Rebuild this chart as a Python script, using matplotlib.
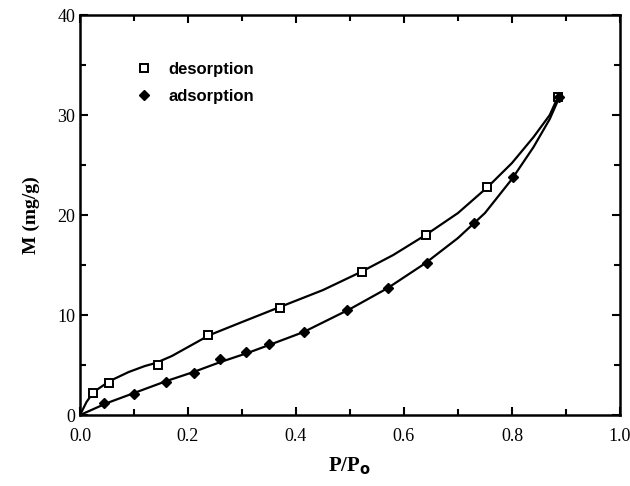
import matplotlib
matplotlib.use("Agg")
import matplotlib.pyplot as plt
from matplotlib.ticker import MultipleLocator, FormatStrFormatter

des_x = [0.024, 0.054, 0.144, 0.237, 0.370, 0.522, 0.640, 0.753, 0.885]
des_y = [2.2, 3.2, 5.0, 8.0, 10.7, 14.3, 18.0, 22.8, 31.8]
ads_x = [0.044, 0.100, 0.159, 0.212, 0.259, 0.307, 0.350, 0.414, 0.495, 0.571, 0.642, 0.730, 0.802, 0.888]
ads_y = [1.2, 2.1, 3.3, 4.2, 5.6, 6.3, 7.1, 8.3, 10.5, 12.7, 15.2, 19.2, 23.8, 31.8]

# fitted curves
des_fit_x = [0.0, 0.012, 0.025, 0.055, 0.09, 0.12, 0.14, 0.17, 0.2, 0.24, 0.3, 0.37, 0.45, 0.52,
             0.58, 0.64, 0.7, 0.755, 0.8, 0.84, 0.87, 0.885]
des_fit_y = [0.0, 1.3, 2.3, 3.4, 4.3, 4.9, 5.2, 5.9, 6.8, 8.0, 9.3, 10.8, 12.5, 14.3,
             16.0, 18.0, 20.2, 22.8, 25.2, 27.8, 30.0, 31.8]
ads_fit_x = [0.0, 0.05, 0.1, 0.16, 0.21, 0.26, 0.31, 0.35, 0.414, 0.5, 0.57, 0.64, 0.7, 0.75,
             0.8, 0.84, 0.87, 0.888]
ads_fit_y = [0.0, 1.2, 2.2, 3.4, 4.3, 5.3, 6.2, 7.0, 8.3, 10.6, 12.7, 15.2, 17.7, 20.2,
             23.6, 26.8, 29.6, 31.8]

fig = plt.figure(figsize=(6.3, 4.86), dpi=100)
ax = fig.add_axes([0.127, 0.146, 0.857, 0.823])

ax.plot(des_fit_x, des_fit_y, color='black', lw=1.6)
ax.plot(ads_fit_x, ads_fit_y, color='black', lw=1.6)
ax.plot(des_x, des_y, 's', ms=6, mfc='white', mec='black', mew=1.4, label='desorption')
ax.plot(ads_x, ads_y, 'D', ms=5.5, color='black', label='adsorption')

ax.set_xlim(0, 1.0)
ax.set_ylim(0, 40)
ax.xaxis.set_major_locator(MultipleLocator(0.2))
ax.xaxis.set_minor_locator(MultipleLocator(0.1))
ax.xaxis.set_major_formatter(FormatStrFormatter('%.1f'))
ax.yaxis.set_major_locator(MultipleLocator(10))
ax.yaxis.set_minor_locator(MultipleLocator(5))
ax.tick_params(which='both', direction='in', top=True, right=True, width=1.5,
               labelsize=13, labelfontfamily='Liberation Serif')
ax.tick_params(which='major', length=6)
ax.tick_params(which='minor', length=4)
ax.tick_params(axis='x', which='major', pad=9)
for s in ax.spines.values():
    s.set_linewidth(1.8)

ax.set_xlabel('P/P$_\\mathbf{o}$', family='Liberation Serif', fontsize=15, fontweight='bold', labelpad=8)
ax.set_ylabel('M (mg/g)', family='Liberation Serif', fontsize=14, fontweight='bold', labelpad=12)

ax.legend(loc='upper left', bbox_to_anchor=(0.075, 0.92), frameon=False, handletextpad=1.0,
          handlelength=1.0, labelspacing=0.7,
          prop={'family': 'Liberation Sans', 'weight': 'bold', 'size': 12})

fig.savefig('out.png', dpi=100)
